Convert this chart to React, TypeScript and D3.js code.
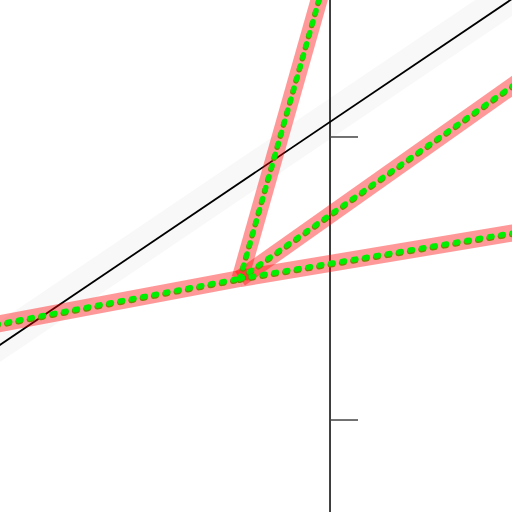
import React from "react";
import * as d3 from "d3";

const W = 512;
const H = 512;

// value-space data
const xDomain = [-2.332, 1.286];
const yDomain = [-1.65, 1.968];
const yTicks = [1, -1];

const vertex: [number, number] = [-0.636, 0];
const leftBranch: [number, number][] = [[-2.6, -0.37], vertex];
const branchFlat: [number, number][] = [vertex, [1.5, 0.357]];
const branchMid: [number, number][] = [vertex, [1.5, 1.51]];
const branchSteep: [number, number][] = [vertex, [-0.04, 2.1]];
const refLine: [number, number][] = [[-2.6, -0.65], [1.5, 2.12]];

export default function App() {
  const x = d3.scaleLinear().domain(xDomain).range([0, W]);
  const y = d3.scaleLinear().domain(yDomain).range([H, 0]);
  const line = d3
    .line<[number, number]>()
    .x((d) => x(d[0]))
    .y((d) => y(d[1]));
  const branches = [leftBranch, branchFlat, branchMid, branchSteep];
  const x0 = x(0);
  return (
    <svg
      width={W}
      height={H}
      style={{ position: "fixed", left: 0, top: 0, background: "#fff" }}
    >
      <path d={line(refLine) || ""} stroke="#f8f8f8" strokeWidth={34} fill="none" transform="translate(-2,-2)" />
      <path d={line(refLine) || ""} stroke="#000" strokeWidth={1.8} fill="none" />
      <line x1={x0} x2={x0} y1={0} y2={H} stroke="#000" strokeWidth={1.5} />
      {yTicks.map((t) => (
        <line key={t} x1={x0} x2={x0 + 28} y1={y(t)} y2={y(t)} stroke="#444" strokeWidth={1.5} />
      ))}
      {branches.map((b, i) => (
        <path key={"p" + i} d={line(b) || ""} stroke="red" strokeOpacity={0.4} strokeWidth={17} fill="none" strokeLinecap="butt" />
      ))}
      {branches.map((b, i) => (
        <path key={"o" + i} d={line(b) || ""} stroke="#6e8c00" strokeWidth={5.5} strokeDasharray="2.5 9" strokeLinecap="round" fill="none" transform="translate(-0.5,1.5)" />
      ))}
      {branches.map((b, i) => (
        <path key={"g" + i} d={line(b) || ""} stroke="#00ee00" strokeWidth={5.5} strokeDasharray="2.5 9" strokeLinecap="round" fill="none" />
      ))}
    </svg>
  );
}
